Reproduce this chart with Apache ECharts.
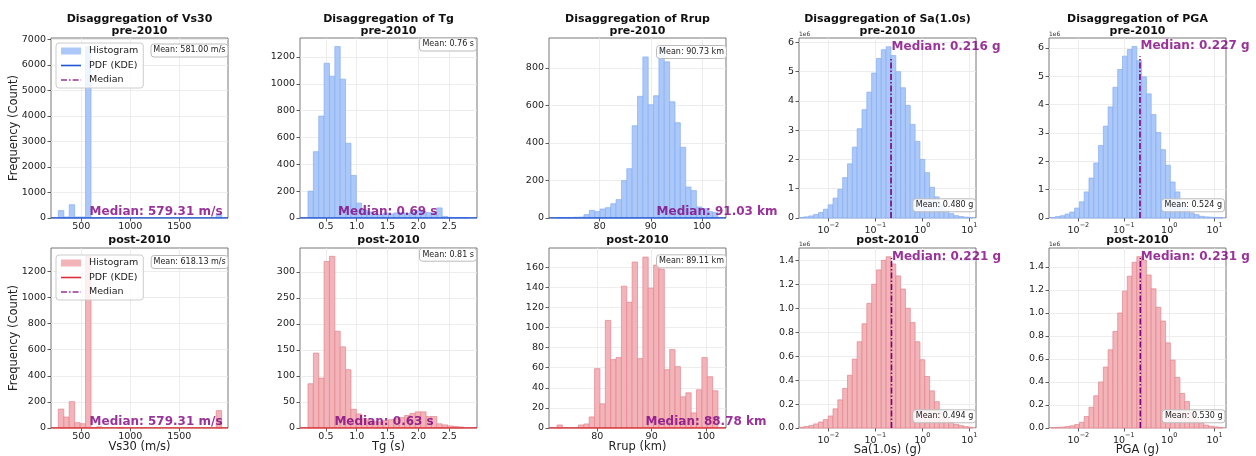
<!DOCTYPE html>
<html><head><meta charset="utf-8">
<script src="https://cdn.jsdelivr.net/npm/echarts@6/dist/echarts.min.js"></script>
<style>html,body{margin:0;padding:0;background:#fff}#c{width:1256px;height:456px}</style>
</head><body><div id="c"></div>
<script>
// ================= DATA =================
const variables   = ['Vs30', 'Tg', 'Rrup', 'Sa(1.0s)', 'PGA'];
const xAxisNames  = ['Vs30 (m/s)', 'Tg (s)', 'Rrup (km)', 'Sa(1.0s) (g)', 'PGA (g)'];
const units       = ['m/s', 's', 'km', 'g', 'g'];
const statDecimals = [2, 2, 2, 3, 3];
const periods     = ['pre-2010', 'post-2010'];

// histogram bin ranges [first edge, last edge]; log panels give log10 of the edges
const vs30Bins     = [265, 1933];
const tgBins       = [0.21, 2.82];
const rrupPreBins  = [71.7, 103.1];
const rrupPostBins = [72.6, 102.2];
const saBinsLog10  = [-2.62, 1.08];
const pgaBinsLog10 = [-2.61, 1.184];

// histogram counts (Sa / PGA in units of 1e6)
const vs30Pre  = [290, 40, 520, 40, 40, 6720, 10, 20, 0, 0, 0, 10, 0, 0, 0, 0, 0, 0, 0, 0, 0, 0, 0, 0, 0, 0, 0, 0, 0, 130];
const vs30Post = [145, 84, 202, 41, 33, 1313, 2, 9, 0, 0, 0, 5, 0, 0, 0, 0, 0, 0, 0, 0, 0, 0, 0, 0, 0, 0, 0, 0, 0, 133];
const tgPre    = [200, 494, 759, 1153, 1056, 1277, 1034, 557, 317, 111, 60, 45, 30, 25, 37, 30, 38, 40, 35, 45, 54, 48, 40, 37, 75, 12, 5, 3, 2, 1];
const tgPost   = [85, 144, 96, 320, 330, 186, 156, 112, 36, 27, 18, 14, 12, 12, 14, 16, 18, 20, 24, 28, 31, 31, 22, 22, 8, 6, 4, 3, 2, 0];
const rrupPre  = [3, 2, 3, 4, 5, 18, 41, 34, 48, 55, 76, 98, 199, 263, 492, 649, 859, 604, 652, 914, 833, 620, 508, 377, 165, 146, 59, 50, 34, 30];
const rrupPost = [3, 0, 0, 0, 3, 4, 11, 59, 24, 107, 68, 70, 141, 125, 165, 69, 170, 139, 162, 158, 58, 78, 61, 31, 35, 15, 38, 70, 51, 37];
const saPre    = [0.02, 0.04, 0.07, 0.12, 0.19, 0.3, 0.45, 0.68, 0.98, 1.38, 1.85, 2.42, 3.05, 3.7, 4.3, 4.95, 5.45, 5.75, 5.85, 5.55, 5.0, 4.45, 3.85, 3.2, 2.62, 2.0, 1.55, 1.05, 0.72, 0.45, 0.27, 0.15, 0.08, 0.05, 0.03, 0.02];
const saPost   = [0.006, 0.013, 0.02, 0.034, 0.05, 0.07, 0.1, 0.16, 0.235, 0.33, 0.44, 0.575, 0.72, 0.87, 1.04, 1.2, 1.32, 1.4, 1.43, 1.37, 1.27, 1.16, 1.0, 0.88, 0.72, 0.57, 0.43, 0.31, 0.22, 0.13, 0.08, 0.05, 0.03, 0.02, 0.012, 0.006];
const pgaPre   = [0.02, 0.05, 0.08, 0.14, 0.21, 0.35, 0.57, 0.92, 1.41, 1.94, 2.56, 3.24, 3.92, 4.61, 5.24, 5.71, 5.94, 6.05, 5.55, 4.98, 4.38, 3.65, 3.02, 2.41, 1.86, 1.27, 0.92, 0.51, 0.33, 0.18, 0.12, 0.06, 0.04, 0.03, 0.02, 0.01];
const pgaPost  = [0.003, 0.005, 0.008, 0.012, 0.019, 0.03, 0.05, 0.1, 0.18, 0.28, 0.4, 0.53, 0.68, 0.84, 1.0, 1.19, 1.32, 1.44, 1.49, 1.46, 1.33, 1.21, 1.05, 0.93, 0.74, 0.59, 0.44, 0.3, 0.23, 0.14, 0.08, 0.045, 0.025, 0.015, 0.01, 0.005];

// statistics
const medianPre  = [579.31, 0.69, 91.03, 0.216, 0.227];
const medianPost = [579.31, 0.63, 88.78, 0.221, 0.231];
const meanPre    = [581.00, 0.76, 90.73, 0.480, 0.524];
const meanPost   = [618.13, 0.81, 89.11, 0.494, 0.530];
// height reached by the median line (KDE peak) and median text anchor height
const medianTopPre   = [0, 0, 0, 5.50, 5.71];
const medianTopPost  = [0, 0, 0, 1.42, 1.478];
const medianTextYPre  = [0, 0, 0, 5.64, 5.84];
const medianTextYPost = [0, 0, 0, 1.372, 1.43];

// axis ranges
const xRanges = [[190, 1998], [0.08, 2.95], [70.1, 104.7], [Math.pow(10, -2.624), Math.pow(10, 1.142)], [Math.pow(10, -2.647), Math.pow(10, 1.25)]];
const rrupPostXRange = [71.13, 103.67];
const yMaxPre  = [7060, 1341, 960, 6.15, 6.35];
const yMaxPost = [1379, 346, 179, 1.503, 1.565];

// tick labels
const vs30XTicks = [500, 1000, 1500];
const tgXTicks   = [0.5, 1.0, 1.5, 2.0, 2.5];
const rrupXTicks = [80, 90, 100];
const logXTicks  = [0.01, 0.1, 1, 10];
const yTicksPre  = [[0, 1000, 2000, 3000, 4000, 5000, 6000, 7000], [0, 200, 400, 600, 800, 1000, 1200], [0, 200, 400, 600, 800], [0, 1, 2, 3, 4, 5, 6], [0, 1, 2, 3, 4, 5, 6]];
const yTicksPost = [[0, 200, 400, 600, 800, 1000, 1200], [0, 50, 100, 150, 200, 250, 300], [0, 20, 40, 60, 80, 100, 120, 140, 160], [0, 0.2, 0.4, 0.6, 0.8, 1.0, 1.2, 1.4], [0, 0.2, 0.4, 0.6, 0.8, 1.0, 1.2, 1.4]];
const yDecPost = [0, 0, 0, 1, 1];

// ================= LAYOUT / STYLE =================
const FONT = 'DejaVu Sans';
const colLeft = [51, 300, 549, 799, 1049];
const rowTop = [38, 248];
const GW = 177, GH = 180;
const meanBoxRight = [[225.5, 474, 724, 973.3, 1222], [225.7, 474, 724, 973.3, 1222.5]];
const meanBoxTop = [[43.5, 37.5, 45, 198.3, 198.3], [255, 247.7, 254.3, 409.3, 409.3]];
const styles = [
  { fill: '#abc8f9', edge: '#86aef2', line: '#1f56d6' },
  { fill: '#f2b4b9', edge: '#e4848e', line: '#dc2f35' }
];
const MED = '#800080';
const ICON_LINE = 'path://M0,0h20v1.6h-20z';
const ICON_DASHDOT = 'path://M0,0h6v1.6h-6z M8,0h1.6v1.6h-1.6z M11.6,0h6v1.6h-6z M19.6,0h0.4v1.6h-0.4z';

const countsTable = [[vs30Pre, tgPre, rrupPre, saPre, pgaPre], [vs30Post, tgPost, rrupPost, saPost, pgaPost]];
const binsTable = [[vs30Bins, tgBins, rrupPreBins, saBinsLog10, pgaBinsLog10], [vs30Bins, tgBins, rrupPostBins, saBinsLog10, pgaBinsLog10]];
const xTicksTable = [vs30XTicks, tgXTicks, rrupXTicks, logXTicks, logXTicks];
const isLog = [false, false, false, true, true];

const grids = [], xAxes = [], yAxes = [], series = [], titles = [], legends = [];

function edges(bins, n, log) {
  const out = [];
  for (let i = 0; i <= n; i++) {
    const t = bins[0] + (bins[1] - bins[0]) * i / n;
    out.push(log ? Math.pow(10, t) : t);
  }
  return out;
}

for (let r = 0; r < 2; r++) {
  for (let c = 0; c < 5; c++) {
    const g = r * 5 + c;
    const st = styles[r];
    const log = isLog[c];
    const counts = countsTable[r][c];
    const e = edges(binsTable[r][c], counts.length, log);
    const xr = (r === 1 && c === 2) ? rrupPostXRange : xRanges[c];
    const yMax = r === 0 ? yMaxPre[c] : yMaxPost[c];
    const yTicks = r === 0 ? yTicksPre[c] : yTicksPost[c];
    const yDec = r === 0 ? 0 : yDecPost[c];
    const median = r === 0 ? medianPre[c] : medianPost[c];
    const mean = r === 0 ? meanPre[c] : meanPost[c];
    const medTop = r === 0 ? medianTopPre[c] : medianTopPost[c];
    const medTextY = r === 0 ? medianTextYPre[c] : medianTextYPost[c];
    const xTicks = xTicksTable[c];

    grids.push({ left: colLeft[c], top: rowTop[r], width: GW, height: GH, show: true,
      borderColor: '#555', borderWidth: 0.8, backgroundColor: 'rgba(0,0,0,0)', outerBoundsMode: 'none' });

    const xLabelFmt = log
      ? (v) => { const ex = Math.round(Math.log10(v)); return '{b|10}{s|' + (ex < 0 ? '\u2212' : '') + Math.abs(ex) + '}'; }
      : (c === 1 ? (v) => v.toFixed(1) : (v) => String(v));

    xAxes.push({
      type: log ? 'log' : 'value', logBase: 10, gridIndex: g, min: xr[0], max: xr[1],
      axisLine: { show: false },
      axisTick: { show: true, length: 3.5, lineStyle: { color: '#333', width: 0.8 }, customValues: xTicks },
      axisLabel: { customValues: xTicks, formatter: xLabelFmt, fontFamily: FONT, fontSize: 9.5, color: '#222', margin: 4,
        rich: { b: { fontFamily: FONT, fontSize: 9.5, color: '#222', lineHeight: 14, verticalAlign: 'bottom' },
                s: { fontFamily: FONT, fontSize: 6.5, color: '#222', lineHeight: 8, verticalAlign: 'top' } } },
      splitLine: { show: true, lineStyle: { color: '#e9e9e9', width: 0.8 } },
      minorTick: { show: false },
      name: r === 1 ? xAxisNames[c] : '', nameLocation: 'middle', nameGap: log ? 16.5 : 13.5, nameMoveOverlap: false,
      nameTextStyle: { fontFamily: FONT, fontSize: 11.5, color: '#222' }
    });
    yAxes.push({
      type: 'value', gridIndex: g, min: 0, max: yMax,
      axisLine: { show: false },
      axisTick: { show: true, length: 3.5, lineStyle: { color: '#333', width: 0.8 }, customValues: yTicks },
      axisLabel: { customValues: yTicks, formatter: (v) => v.toFixed(yDec), fontFamily: FONT, fontSize: 9.5, color: '#222', margin: 5 },
      splitLine: { show: true, lineStyle: { color: '#e9e9e9', width: 0.8 } },
      name: c === 0 ? 'Frequency (Count)' : '', nameLocation: 'middle', nameGap: 31, nameMoveOverlap: false,
      nameTextStyle: { fontFamily: FONT, fontSize: 11.5, color: '#222' }
    });

    // histogram
    series.push({
      type: 'custom', name: 'Histogram', xAxisIndex: g, yAxisIndex: g, z: 2, silent: true,
      itemStyle: { color: st.fill },
      encode: { x: [0, 1], y: 2 },
      data: counts.map((v, i) => [e[i], e[i + 1], v]),
      renderItem: (params, api) => {
        const lo = api.value(0), hi = api.value(1), v = api.value(2);
        if (!(v > 0)) return null;
        const a = api.coord([lo, 0]), b = api.coord([hi, v]);
        return { type: 'rect', shape: { x: a[0], y: b[1], width: b[0] - a[0], height: a[1] - b[1] },
          style: { fill: st.fill, stroke: st.edge, lineWidth: 0.7 } };
      }
    });
    // PDF (KDE) - density values are ~0 on the count axis
    series.push({
      type: 'line', name: 'PDF (KDE)', xAxisIndex: g, yAxisIndex: g, z: 3, silent: true,
      symbol: 'none', lineStyle: { color: st.line, width: 1.5 }, itemStyle: { color: st.line },
      data: log ? [] : [[xr[0], 0], [xr[1], 0]]
    });
    // median line
    series.push({
      type: 'line', name: 'Median', xAxisIndex: g, yAxisIndex: g, z: 4, silent: true,
      symbol: 'none', lineStyle: { color: MED, width: 1.6, type: [6, 2, 1.5, 2] }, itemStyle: { color: MED },
      data: [[median, 0], [median, medTop]]
    });
    // median text
    series.push({
      type: 'scatter', name: 'medianText' + g, xAxisIndex: g, yAxisIndex: g, z: 6, silent: true,
      symbolSize: 1, itemStyle: { color: 'rgba(0,0,0,0)' },
      label: { show: true, position: [1, 0], align: 'left', verticalAlign: 'bottom',
        formatter: 'Median: ' + median.toFixed(statDecimals[c]) + ' ' + units[c],
        fontFamily: FONT, fontSize: 12, fontWeight: 'bold', color: MED },
      data: [[median, medTextY]]
    });

    // titles
    const cx = colLeft[c] + GW / 2;
    titles.push({
      text: r === 0 ? 'Disaggregation of ' + variables[c] + '\n' + periods[0] : periods[1],
      left: cx, top: r === 0 ? 13.5 : 234.3, textAlign: 'center', padding: 0,
      textStyle: { fontFamily: FONT, fontSize: 11, fontWeight: 'bold', color: '#111', lineHeight: 11.5 }
    });
    // mean box
    titles.push({
      text: 'Mean: ' + mean.toFixed(statDecimals[c]) + ' ' + units[c],
      left: meanBoxRight[r][c] - 3, top: meanBoxTop[r][c], textAlign: 'right', padding: [2, 3, 2, 3],
      backgroundColor: 'rgba(255,255,255,0.85)', borderColor: '#bbbbbb', borderWidth: 1, borderRadius: 3,
      textStyle: { fontFamily: FONT, fontSize: 8, fontWeight: 'normal', color: '#222', lineHeight: 9.5 }
    });
    if (log) {
      titles.push({ text: '1e6', left: colLeft[c], top: rowTop[r] - 7, padding: 0,
        textStyle: { fontFamily: FONT, fontSize: 6, fontWeight: 'normal', color: '#333' } });
    }
  }
  legends.push({
    orient: 'vertical', left: 56, top: r === 0 ? 43 : 255, selectedMode: false,
    itemWidth: 20, itemHeight: 7, itemGap: 4.5, padding: [3, 5, 3, 5],
    backgroundColor: 'rgba(255,255,255,0.8)', borderColor: '#cccccc', borderWidth: 1, borderRadius: 3,
    textStyle: { fontFamily: FONT, fontSize: 9.5, color: '#222', padding: [0, 0, 0, 3] },
    data: [
      { name: 'Histogram', icon: 'rect', itemStyle: { color: styles[r].fill, borderWidth: 0 } },
      { name: 'PDF (KDE)', icon: ICON_LINE, itemStyle: { color: styles[r].line, borderWidth: 0 } },
      { name: 'Median', icon: ICON_DASHDOT, itemStyle: { color: MED, opacity: 0.8, borderWidth: 0 } }
    ]
  });
}

const chart = echarts.init(document.getElementById('c'), null, { renderer: 'canvas', width: 1256, height: 456 });
chart.setOption({
  animation: false,
  backgroundColor: '#ffffff',
  textStyle: { fontFamily: FONT },
  title: titles,
  legend: legends,
  grid: grids,
  xAxis: xAxes,
  yAxis: yAxes,
  series: series
});
</script></body></html>
